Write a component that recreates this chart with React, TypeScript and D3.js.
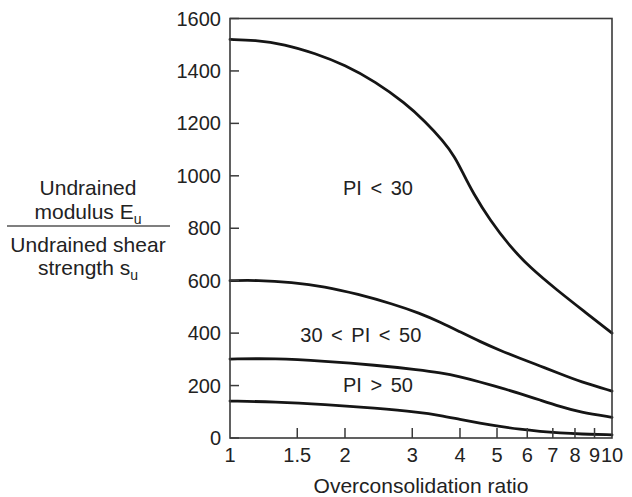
import React from "react";
import * as d3 from "d3";

// Overconsolidation ratio (x) vs. ratio Eu/su (y) for three plasticity ranges
const curveLowPI: [number, number][] = [
  [1, 1520], [1.16, 1518], [1.39, 1502], [1.67, 1467], [2.0, 1423], [2.4, 1359],
  [2.87, 1278], [3.24, 1208], [3.61, 1134], [3.88, 1072], [4.07, 1011], [4.33, 934],
  [4.79, 831], [5.41, 730], [6.1, 650], [7.18, 564], [8.4, 486], [10, 400],
];

const curveMidPI: [number, number][] = [
  [1, 600], [1.18, 602], [1.45, 594], [1.77, 578], [2.16, 549], [2.66, 512],
  [3.14, 476], [3.55, 442], [4.0, 405], [4.51, 368], [5.09, 334], [5.74, 304],
  [6.48, 275], [7.31, 245], [8.25, 215], [10, 179],
];

const curveHighPI: [number, number][] = [
  [1, 301], [1.31, 304], [1.77, 293], [2.4, 278], [3.14, 260], [3.55, 249],
  [4.0, 234], [4.51, 214], [5.09, 192], [5.74, 170], [6.48, 145], [7.31, 120],
  [8.25, 98], [10, 79],
];

const curveBottom: [number, number][] = [
  [1, 141], [1.31, 138], [1.77, 128], [2.4, 114], [3.14, 98], [3.55, 86],
  [4.0, 71], [4.51, 57], [5.09, 44], [5.74, 33], [6.48, 25], [7.31, 19],
  [8.25, 15], [10, 12],
];

const xTickValues = [1, 1.5, 2, 3, 4, 5, 6, 7, 8, 9, 10];
const xTickLabels = ["1", "1.5", "2", "3", "4", "5", "6", "7", "8", "9", "10"];
const yTickValues = [0, 200, 400, 600, 800, 1000, 1200, 1400, 1600];

// Region labels: [text, ocr, ratio]
const regionLabels: [string, number, number][] = [
  ["PI < 30", 2.44, 952],
  ["30 < PI < 50", 2.2, 392],
  ["PI > 50", 2.44, 202],
];

const W = 632;
const H = 497;
const left = 230;
const right = 612;
const top = 18.5;
const bottom = 438;

const FONT = "'Liberation Sans', Arial, Helvetica, sans-serif";
const TEXT = "#222";

export default function App() {
  const x = d3.scaleLog().domain([1, 10]).range([left, right]);
  const y = d3.scaleLinear().domain([0, 1600]).range([bottom, top]);

  const line = d3
    .line<[number, number]>()
    .x((d) => x(d[0]))
    .y((d) => y(d[1]))
    .curve(d3.curveBasis);

  const curves = [curveLowPI, curveMidPI, curveHighPI, curveBottom];

  return (
    <svg
      width={W}
      height={H}
      style={{ position: "absolute", left: 0, top: 0, background: "#fff" }}
      fontFamily={FONT}
    >
      <rect x={0} y={0} width={W} height={H} fill="#fff" />

      {/* curves */}
      {curves.map((c, i) => (
        <path
          key={i}
          d={line(c) || ""}
          fill="none"
          stroke="#151515"
          strokeWidth={2.8}
          strokeLinecap="round"
        />
      ))}

      {/* frame */}
      <rect
        x={left}
        y={top}
        width={right - left}
        height={bottom - top}
        fill="none"
        stroke="#3a3a3a"
        strokeWidth={1.6}
      />

      {/* y ticks (inward) and labels */}
      {yTickValues.map((v) => (
        <g key={"y" + v}>
          <line x1={left} x2={left + 9} y1={y(v)} y2={y(v)} stroke="#3a3a3a" strokeWidth={1.5} />
          <text
            x={left - 9}
            y={y(v)}
            dy="0.35em"
            textAnchor="end"
            fontSize={20}
            fill={TEXT}
          >
            {v}
          </text>
        </g>
      ))}

      {/* x ticks (inward) and labels */}
      {xTickValues.map((v, i) => (
        <g key={"x" + v}>
          {v > 1 && v < 10 && (
            <line x1={x(v)} x2={x(v)} y1={bottom} y2={bottom - 10} stroke="#3a3a3a" strokeWidth={1.5} />
          )}
          <text x={x(v)} y={462} textAnchor="middle" fontSize={20} fill={TEXT}>
            {xTickLabels[i]}
          </text>
        </g>
      ))}

      {/* x axis title */}
      <text x={(left + right) / 2} y={493} textAnchor="middle" fontSize={21} fill={TEXT}>
        Overconsolidation ratio
      </text>

      {/* y axis title as a fraction */}
      <g fontSize={21} fill={TEXT} textAnchor="middle">
        <text x={88} y={195}>Undrained</text>
        <text x={88} y={219}>
          modulus E<tspan fontSize={14} dy={5}>u</tspan>
        </text>
        <line x1={7} x2={170} y1={226} y2={226} stroke="#555" strokeWidth={1.6} />
        <text x={88} y={252}>Undrained shear</text>
        <text x={88} y={275}>
          strength s<tspan fontSize={14} dy={5}>u</tspan>
        </text>
      </g>

      {/* region labels */}
      {regionLabels.map(([t, ocr, val]) => (
        <text
          key={t}
          x={x(ocr)}
          y={y(val)}
          dy="0.35em"
          textAnchor="middle"
          fontSize={20}
          wordSpacing={3}
          fill={TEXT}
        >
          {t}
        </text>
      ))}
    </svg>
  );
}
